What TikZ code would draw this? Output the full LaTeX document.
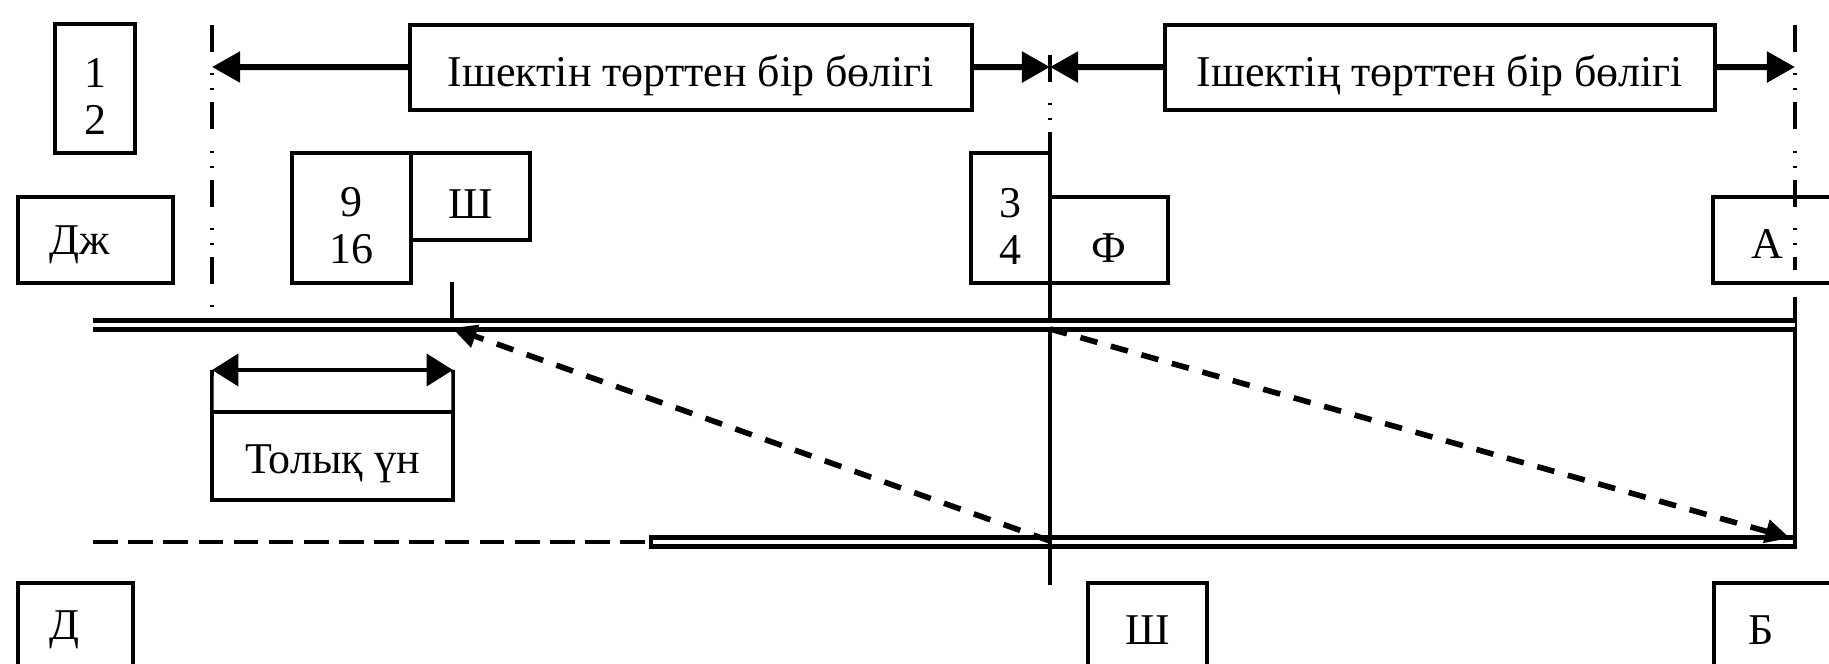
\documentclass[tikz,border=0pt]{standalone}
\usepackage{fontspec}
\setmainfont{Liberation Serif}
\usetikzlibrary{arrows.meta}

\tikzset{
  cell/.style={draw, line width=1pt, inner sep=0pt, outer sep=0pt,
    label={[align=center, yshift=-2.3pt]center:#1}},
  cell/.default={},
  tip/.style={-{Triangle[length=8pt,width=8.5pt]}, line width=1.7pt},
  dashdot/.style={line width=1.1pt, dash pattern=on 7.7pt off 6pt on 0.6pt off 3.7pt on 0.6pt off 3.4pt},
  rail/.style={double, double distance=1.4pt, line width=1.15pt},
  ray/.style={line width=1.6pt, dash pattern=on 5pt off 4pt, -{Triangle[length=7pt,width=6.5pt]}}
}

\begin{document}
\begin{tikzpicture}[x=0.01cm, y=-0.01cm, font=\fontsize{12.5}{13.4}\selectfont]
            \useasboundingbox (0,0) rectangle (1829,664);
            \clip (0,0) rectangle (1829,664);
            \node[cell={1\\2}, minimum width=0.80cm, minimum height=1.29cm] (half) at (95,88.5) {};
            \node[cell, minimum width=1.55cm, minimum height=0.86cm] (Dzh)  at (95.5,240) {};
            \node (DzhT) at (80,245) {Дж};
            \node[cell={Ішектін төрттен бір бөлігі}, minimum width=5.62cm, minimum height=0.85cm] (Q1) at (691,67.5) {};
            \node[cell={Ішектің төрттен бір бөлігі}, minimum width=5.50cm, minimum height=0.85cm] (Q2) at (1440,67.5) {};
            \node[cell={9\\16}, minimum width=1.19cm, minimum height=1.30cm] (N916) at (351.5,218) {};
            \node[cell={Ш},     minimum width=1.19cm, minimum height=0.87cm] (Sh)   at (470.5,196.5) {};
            \node[cell={3\\4},  minimum width=0.79cm, minimum height=1.30cm] (N34)  at (1010.5,218) {};
            \node[cell={Ф},     minimum width=1.18cm, minimum height=0.86cm] (F)    at (1109,240) {};
            \node[cell, minimum width=1.40cm, minimum height=0.86cm, anchor=north west] (Abox) at (1713,197) {};
            \node (A) at (1767,244) {А};
            \node[cell={Толық үн}, minimum width=2.41cm, minimum height=0.88cm] (full) at (332.5,456) {};
            \node[cell, minimum width=1.15cm, minimum height=1.20cm, anchor=north west] (Dbox)  at (18,583) {};
            \node (D) at (64,630) {Д};
            \node[cell, minimum width=1.19cm, minimum height=1.20cm, anchor=north west] (ShBox) at (1088,583) {};
            \node (ShB) at (1148,630) {Ш};
            \node[cell, minimum width=1.40cm, minimum height=1.20cm, anchor=north west] (Bbox)  at (1714,583) {};
            \node (B) at (1761,630) {Б};
            \coordinate (lTop)  at (212,25);
            \coordinate (lTip)  at (212,67);
            \coordinate (lBot)  at (212,330);
            \coordinate (mTop)  at (1050,55);
            \coordinate (mTip)  at (1050,67);
            \coordinate (mMid)  at (1050,133);
            \coordinate (mBot)  at (1050,585);
            \coordinate (rTop)  at (1795,25);
            \coordinate (rTip)  at (1795,67);
            \coordinate (rMid)  at (1795,270);
            \coordinate (rSol)  at (1795,297);
            \coordinate (rBot)  at (1795,542);
            \coordinate (railL) at (93,325);
            \coordinate (railR) at (1795,325);
            \coordinate (lowNW) at (651,537.5);
            \coordinate (lowSE) at (1795,546.5);
            \coordinate (lowL)  at (651,542);
            \coordinate (dashL) at (93,542);
            \coordinate (stem)  at (452,282);
            \coordinate (stemB) at (452,320);
            \coordinate (hit1)  at (452,328);
            \coordinate (low1)  at (1050,541);
            \coordinate (up2)   at (1050,329);
            \coordinate (hit2)  at (1790,538);
            \coordinate (fA)    at (212,370);
            \coordinate (fB)    at (453,370);
            \draw[dashdot] (lTop) -- (lBot);
            \draw[dashdot] (mTop) -- (mMid);
            \draw[line width=1.1pt] (mMid) -- (mBot);
            \draw[dashdot] (rTop) -- (rMid);
            \draw[line width=1.2pt] (rSol) -- (rBot);
            \draw[tip] (Q1) -- (lTip);
            \draw[tip] (Q1) -- (mTip);
            \draw[tip] (Q2) -- (mTip);
            \draw[tip] (Q2) -- (rTip);
            \draw[rail] (railL) -- (railR);
            \draw[line width=1.15pt] (lowNW) rectangle (lowSE);
            \draw[line width=1.4pt, dash pattern=on 7pt off 3pt] (dashL) -- (lowL);
            \draw[line width=1.1pt] (stem) -- (stemB);
            \draw[ray] (low1) -- (hit1);
            \draw[ray] (up2) -- (hit2);
            \draw[{Triangle[length=7.5pt,width=9pt]}-{Triangle[length=7.5pt,width=9pt]}, line width=1.4pt] (fA) -- (fB);
            \draw[line width=1pt] (fA) -- (full.north west) (fB) -- (full.north east);
          \end{tikzpicture}
\end{document}
